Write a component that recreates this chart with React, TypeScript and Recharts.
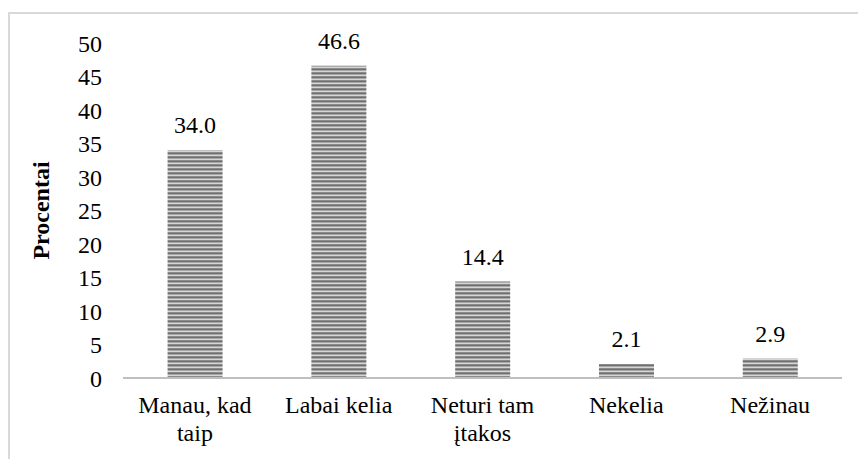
import React from "react";
import { BarChart, Bar, XAxis, YAxis, LabelList } from "recharts";

const categories = ["Manau, kad\ntaip", "Labai kelia", "Neturi tam\nįtakos", "Nekelia", "Nežinau"];
const values = [34.0, 46.6, 14.4, 2.1, 2.9];
const yTicks = [0, 5, 10, 15, 20, 25, 30, 35, 40, 45, 50];

const data = categories.map((c, i) => ({ name: c, value: values[i] }));

const FONT = "'Times New Roman', Tinos, 'Liberation Serif', 'DejaVu Serif', serif";
const FS = 24;

const XTick = (props: any) => {
  const { x, y, payload } = props;
  const lines = String(payload.value).split("\n");
  return (
    <text x={x} y={y} textAnchor="middle" style={{ fontFamily: FONT, fontSize: FS }} fill="#000">
      {lines.map((l, i) => (
        <tspan key={i} x={x} dy={i === 0 ? 27 : 28}>
          {l}
        </tspan>
      ))}
    </text>
  );
};

export default function App() {
  return (
    <div style={{ position: "absolute", left: 0, top: 0, width: 858, height: 459, overflow: "hidden", background: "#fff", fontFamily: FONT }}>
      <div
        style={{
          position: "absolute",
          left: 8,
          top: 12,
          width: 848,
          height: 470,
          borderLeft: "2px solid #d9d9d9",
          borderTop: "2px solid #d9d9d9",
          borderRight: "2px solid #d9d9d9",
        }}
      />
      <div style={{ position: "absolute", left: 0, top: 0 }}>
        <BarChart width={858} height={459} data={data} margin={{ top: 43, right: 16, bottom: 0, left: 0 }} barCategoryGap="31%" style={{ fontFamily: FONT }}>
          <defs>
            <pattern id="stripes" x="0" y="0" width="8" height="4" patternUnits="userSpaceOnUse">
              <rect x="0" y="0" width="8" height="4" fill="#d6d6d6" />
              <rect x="0" y="0" width="8" height="1" fill="#8a8a8a" />
              <rect x="0" y="1" width="8" height="1" fill="#6f6f6f" />
              <rect x="0" y="2" width="8" height="1" fill="#a8a8a8" />
            </pattern>
          </defs>
          <XAxis
            dataKey="name"
            height={81}
            tick={<XTick />}
            tickLine={false}
            axisLine={{ stroke: "#bfbfbf", strokeWidth: 2 }}
            interval={0}
          />
          <YAxis
            width={123}
            domain={[0, 50]}
            ticks={yTicks}
            interval={0}
            axisLine={false}
            tickLine={false}
            tickSize={0}
            tickMargin={21}
            tick={{ fontFamily: FONT, fontSize: FS, fill: "#000" }}
            label={{
              value: "Procentai",
              angle: -90,
              position: "center",
              dx: -21,
              style: { fontFamily: FONT, fontSize: FS, fontWeight: "bold", fill: "#000" },
            }}
          />
          <Bar dataKey="value" fill="url(#stripes)" isAnimationActive={false}>
            <LabelList
              dataKey="value"
              position="top"
              offset={17}
              formatter={(v: any) => Number(v).toFixed(1)}
              style={{ fontFamily: FONT, fontSize: FS, fill: "#000" }}
            />
          </Bar>
        </BarChart>
      </div>
    </div>
  );
}
